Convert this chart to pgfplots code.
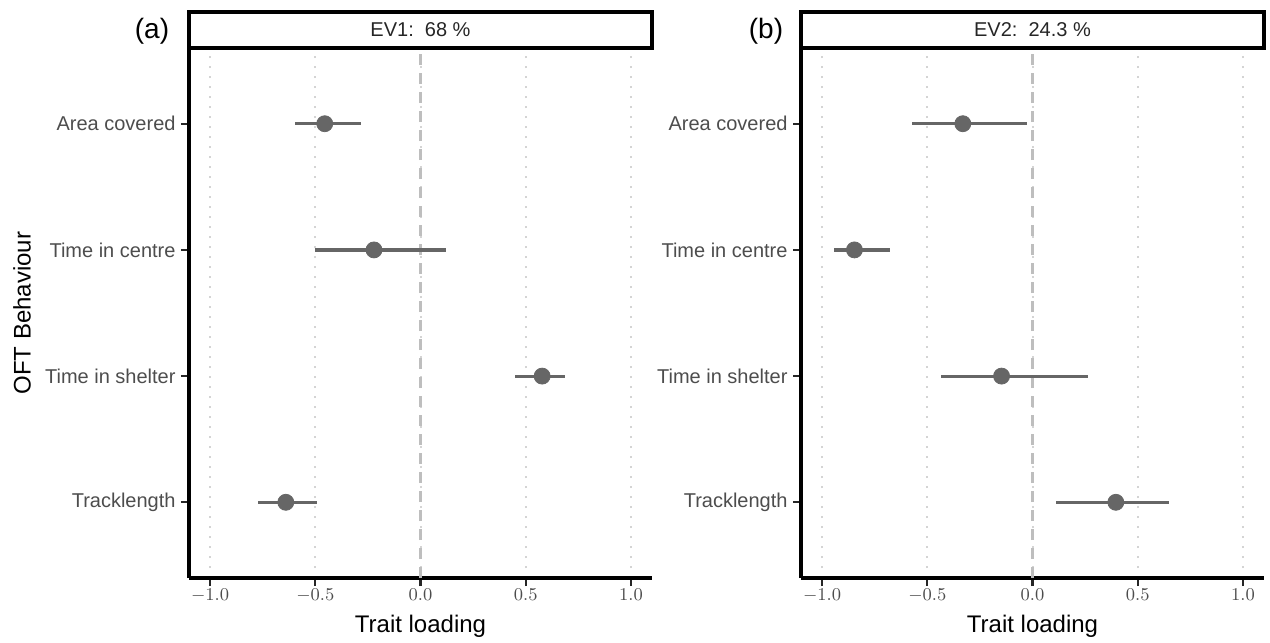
\documentclass[border=0pt]{standalone}
\usepackage{pgfplots}
\usepackage{pgfplotstable}
\pgfplotsset{compat=1.18}
\usepackage{fontspec}
\setmainfont{Liberation Sans}
\definecolor{pt}{HTML}{666666}
\definecolor{tk}{HTML}{4D4D4D}
\definecolor{gr}{HTML}{D4D4D4}
\definecolor{zr}{HTML}{BEBEBE}

\pgfplotstableread{
y x ep em
4 -0.455 0.173 0.139
3 -0.221 0.343 0.278
2 0.578 0.107 0.129
1 -0.640 0.147 0.132
}\tA
\pgfplotstableread{
y x ep em
4 -0.331 0.303 0.242
3 -0.846 0.168 0.097
2 -0.147 0.409 0.287
1 0.396 0.254 0.284
}\tB

\pgfplotsset{
 panel/.style={
  scale only axis, width=231.5pt, height=265pt,
  xmin=-1.1, xmax=1.1, ymin=0.4, ymax=4.6,
  xtick={-1,-0.5,0,0.5,1},
  ytick={1,2,3,4},
  yticklabels={Tracklength, Time in shelter, Time in centre, Area covered},
  axis x line*=bottom, axis y line*=left,
  axis line style={-, line width=1.6pt, black},
  tick align=outside, major tick length=4pt,
  tick style={line width=1.1pt, black!85},
  xmajorgrids, major grid style={gr, line width=1pt, dash pattern=on 1pt off 4pt},
  ticklabel style={text=tk},
  x tick label style={font=\fontsize{9.5}{11}\selectfont, yshift=2.3pt, /pgf/number format/fixed, /pgf/number format/fixed zerofill, /pgf/number format/precision=1},
  y tick label style={font=\fontsize{10}{12}\selectfont, xshift=0.8pt},
  xlabel={Trait loading},
  xlabel style={font=\fontsize{12}{14}\selectfont, at={(axis description cs:0.5,0)}, anchor=base, yshift=-27pt},
  clip=false,
 },
 pts/.style={only marks, mark=*, mark size=4pt, color=pt,
  error bars/.cd, x dir=both, x explicit, error mark=none,
  error bar style={line width=1.6pt, pt}},
}

\begin{document}
\begin{tikzpicture}
\path[use as bounding box] (0,0) rectangle (635pt,-321.5pt);

\begin{axis}[panel, at={(94.5pt,-289pt)}, anchor=south west]
\addplot[zr, line width=1.5pt, dash pattern=on 5.5pt off 4pt] coordinates {(0,0.4) (0,4.6)};
\addplot[pts] table[x=x, y=y, x error plus=ep, x error minus=em]{\tA};
\draw[line width=1.6pt] (rel axis cs:0,1) rectangle ([yshift=18pt]rel axis cs:1,1);
\node[text=black!85, font=\fontsize{10}{12}\selectfont] at ([yshift=9pt]rel axis cs:0.5,1) {EV1:\ \ 68 \%};
\end{axis}

\begin{axis}[panel, at={(400.5pt,-289pt)}, anchor=south west]
\addplot[zr, line width=1.5pt, dash pattern=on 5.5pt off 4pt] coordinates {(0,0.4) (0,4.6)};
\addplot[pts] table[x=x, y=y, x error plus=ep, x error minus=em]{\tB};
\draw[line width=1.6pt] (rel axis cs:0,1) rectangle ([yshift=18pt]rel axis cs:1,1);
\node[text=black!85, font=\fontsize{10}{12}\selectfont] at ([yshift=9pt]rel axis cs:0.5,1) {EV2:\ \ 24.3 \%};
\end{axis}

\node[rotate=90, font=\fontsize{12}{14}\selectfont] at (11pt,-156.5pt) {OFT Behaviour};
\node[font=\fontsize{14}{16}\selectfont] at (76pt,-15.5pt) {(a)};
\node[font=\fontsize{14}{16}\selectfont] at (383pt,-15.5pt) {(b)};
\end{tikzpicture}
\end{document}
